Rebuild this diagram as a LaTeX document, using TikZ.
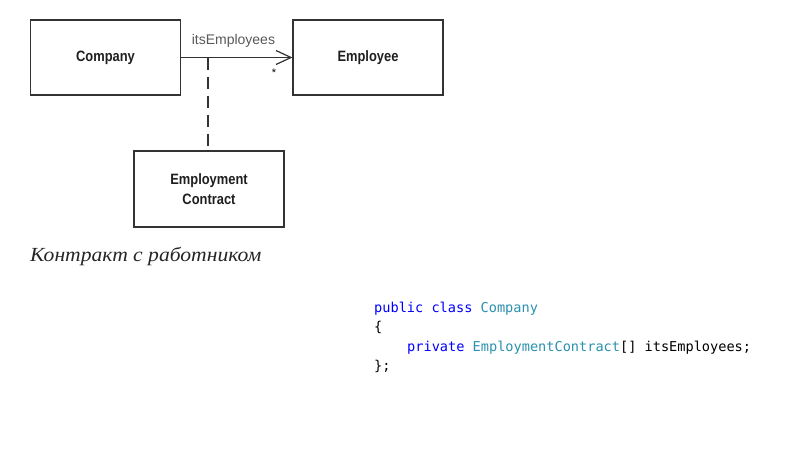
\documentclass[tikz,border=0pt]{standalone}
\usepackage{fontspec}
\setmainfont{Liberation Sans}
\newfontfamily\capfont{Liberation Serif}
\newfontfamily\codefont{DejaVu Sans Mono}
\usetikzlibrary{arrows.meta}
\definecolor{kw}{HTML}{0000FF}
\definecolor{ty}{HTML}{2B91AF}
\definecolor{ln}{HTML}{333333}
\begin{document}
\begin{tikzpicture}[x=1pt,y=-1pt,
  classbox/.style={draw=ln,line width=1.2pt,minimum width=150pt,minimum height=75pt,inner sep=0pt,
    font=\fontsize{15}{18}\selectfont\bfseries,text=black!88,align=center},
  codeline/.style={anchor=base west,inner sep=0pt,font=\codefont\fontsize{13.6}{16}\selectfont}]
\useasboundingbox[fill=white] (0,0) rectangle (800,450);
\node[classbox] (company) at (105.5,57.5) {\scalebox{0.86}[1]{Company}};
\node[classbox] (employee) at (368,57.5) {\scalebox{0.86}[1]{Employee}};
\node[classbox,minimum height=76pt] (contract) at (209,189) {\scalebox{0.86}[1]{Employment}\\[2pt]\scalebox{0.86}[1]{Contract}};
\draw[ln,line width=1.2pt,-{Straight Barb[length=15pt,width=14pt,line width=1.2pt]}] (company.east) -- (employee.west)
  node[pos=0.47,above=6pt,text=black!65,font=\fontsize{14}{16}\selectfont] (role) {itsEmployees};
\node[font=\fontsize{11}{12}\selectfont] (mult) at (274,73) {*};
\coordinate (mid) at (208,57.5);
\draw[ln,line width=1.8pt,dash pattern=on 12pt off 7pt] (mid) -- (mid |- contract.north);
\node[anchor=base west,inner sep=0pt,font=\capfont\itshape\fontsize{20}{22}\selectfont,text=black!85] (caption) at (30,261) {\scalebox{1.08}[1]{Контракт с работником}};
\node[codeline] (l1) at (374,312) {\textcolor{kw}{public class} \textcolor{ty}{Company}};
\node[codeline] (l2) at (374,331.5) {\{};
\node[codeline] (l3) at (407,351) {\textcolor{kw}{private} \textcolor{ty}{EmploymentContract}[] itsEmployees;};
\node[codeline] (l4) at (374,370.5) {\};};
\end{tikzpicture}
\end{document}
